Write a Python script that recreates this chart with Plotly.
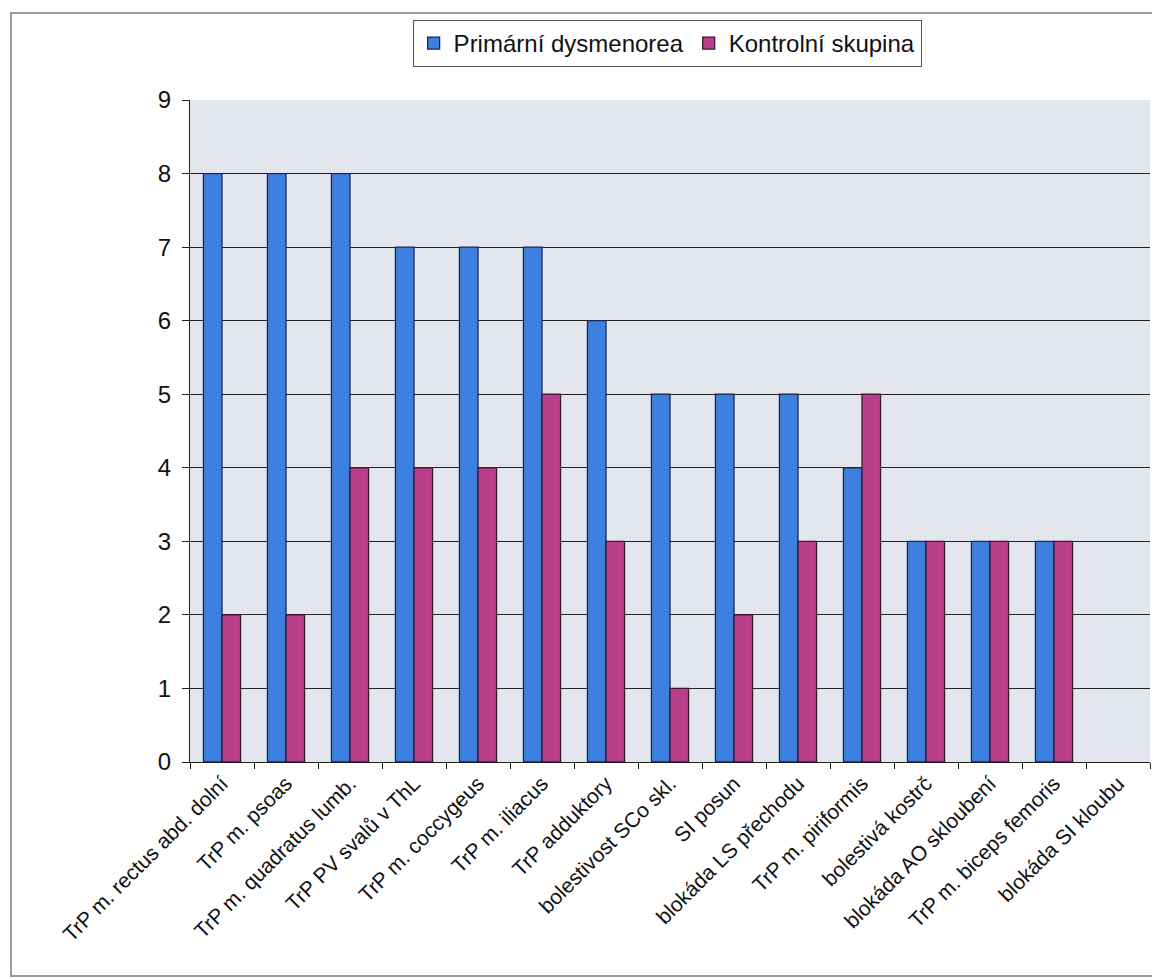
import plotly.graph_objects as go

# Kategorie a počty pacientek
kategorie = [
    "TrP m. rectus abd. dolní",
    "TrP m. psoas",
    "TrP m. quadratus lumb.",
    "TrP PV svalů v ThL",
    "TrP m. coccygeus",
    "TrP m. iliacus",
    "TrP adduktory",
    "bolestivost SCo skl.",
    "SI posun",
    "blokáda LS přechodu",
    "TrP m. piriformis",
    "bolestivá kostrč",
    "blokáda AO skloubení",
    "TrP m. biceps femoris",
    "blokáda SI kloubu",
]
dysmenorea = [8, 8, 8, 7, 7, 7, 6, 5, 5, 5, 4, 3, 3, 3, None]
kontrolni = [2, 2, 4, 4, 4, 5, 3, 1, 2, 3, 5, 3, 3, 3, None]
y_ticks = list(range(0, 10))

W, H = 1152, 978
L, R, T, B = 190, 2, 100, 216
PH = H - T - B

fig = go.Figure()
fig.add_trace(go.Bar(
    x=kategorie, y=dysmenorea, name="Primární dysmenorea",
    marker=dict(color="#3d80e2", line=dict(color="#1c2650", width=1.3)),
))
fig.add_trace(go.Bar(
    x=kategorie, y=kontrolni, name="Kontrolní skupina",
    marker=dict(color="#bb3e8a", line=dict(color="#3a1830", width=1.3)),
))

font_family = "Liberation Sans, Arial, sans-serif"

fig.update_layout(
    width=W, height=H,
    margin=dict(l=L, r=R, t=T, b=B, autoexpand=False),
    paper_bgcolor="white",
    plot_bgcolor="#e4e6ee",
    barmode="group",
    bargap=0.42,
    bargroupgap=0,
    font=dict(family=font_family, color="#111111"),
    legend=dict(
        orientation="h",
        x=0.497, xanchor="center",
        y=1 + (T - 20) / PH, yanchor="top",
        bgcolor="white",
        bordercolor="#555555", borderwidth=1,
        font=dict(size=24, family=font_family, color="#111111"),
        itemwidth=30,
        traceorder="normal",
    ),
    xaxis=dict(
        type="category",
        tickangle=-45,
        tickfont=dict(size=21, family=font_family, color="#111111"),
        ticks="outside", ticklen=6, tickcolor="#222222",
        tickson="boundaries",
        showline=True, linecolor="#222222", linewidth=1,
        showgrid=False,
        range=[-0.5, len(kategorie) - 0.5],
    ),
    yaxis=dict(
        range=[0, 9],
        tickvals=y_ticks,
        ticktext=[str(v) for v in y_ticks],
        tickfont=dict(size=24, family=font_family, color="#111111"),
        ticks="outside", ticklen=7, tickcolor="#222222",
        showline=True, linecolor="#222222", linewidth=1,
        showgrid=True, gridcolor="#222222", gridwidth=1,
        zeroline=False,
        ticklabelstandoff=6,
    ),
    shapes=[
        # rámeček celého grafu
        dict(type="rect", xref="paper", yref="paper",
             x0=(11 - L) / (W - L - R), x1=(W + 20 - L) / (W - L - R),
             y0=-(976 - T - PH) / PH,
             y1=1 + (T - 13) / PH,
             line=dict(color="#9a9a9a", width=2), layer="below"),
    ],
)

fig.write_html("out.html")
